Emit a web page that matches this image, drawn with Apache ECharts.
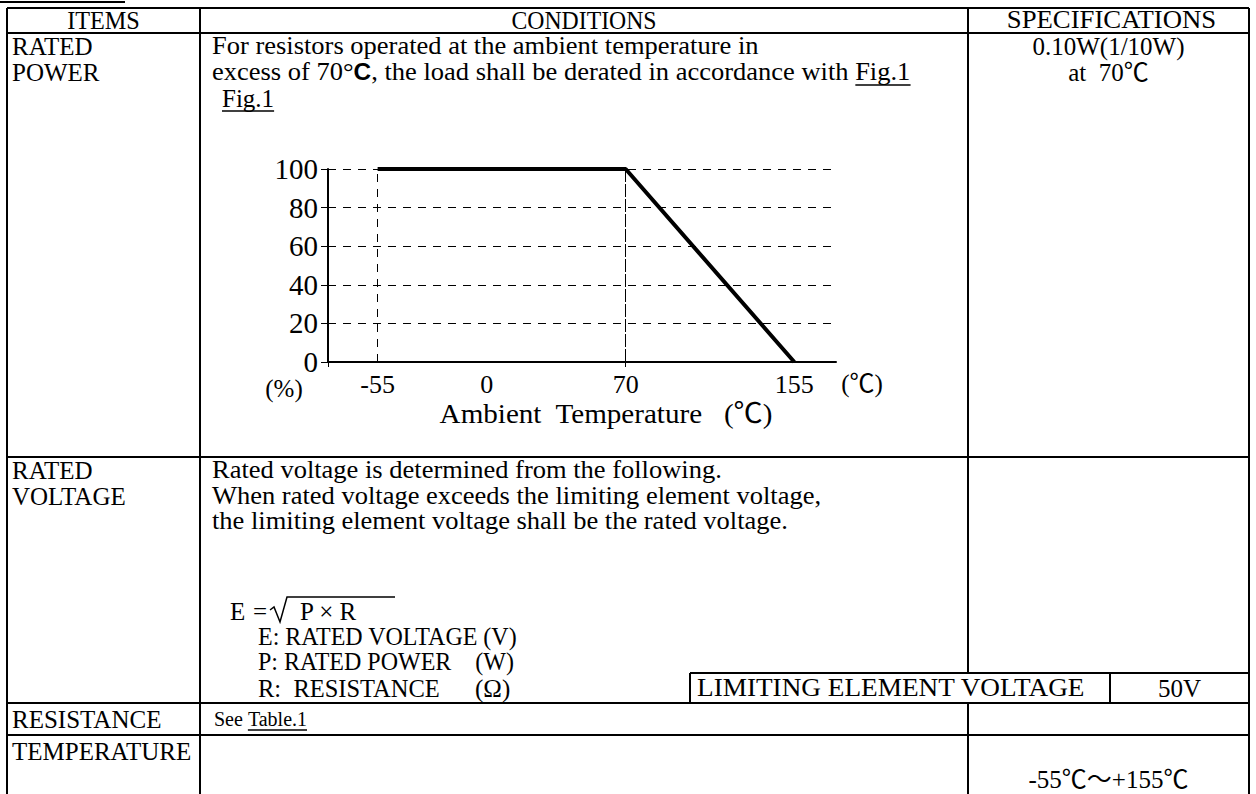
<!DOCTYPE html>
<html><head><meta charset="utf-8">
<script src="https://cdn.jsdelivr.net/npm/echarts@6/dist/echarts.min.js"></script>
<style>html,body{margin:0;padding:0;background:#fff}#c{width:1256px;height:794px}</style>
</head><body><div id="c"></div>
<script>
// ---- data ----
const tempLabels = [-55, 0, 70, 155];          // x tick labels (°C)
const powerTicks = [0, 20, 40, 60, 80, 100];   // y tick labels (%)
const deratingTemp = [-55, 70, 155];           // derating curve x
const deratingPower = [100, 100, 0];           // derating curve y (%)
const extraGridTemps = [-55, 70];              // extra vertical grid lines

const SERIF = '"Liberation Serif","Times New Roman","Noto Sans CJK JP",serif';
const SANS = '"Liberation Sans",Arial,sans-serif';
const FS = 25;
const SX = 1.06;
const chart = echarts.init(document.getElementById('c'), null, {renderer: 'svg', width: 1256, height: 794});

const mctx = document.createElement('canvas').getContext('2d');
function W(text, fs, ff) { mctx.font = fs + 'px ' + ff; return mctx.measureText(text).width; }

function T(text, x, y, o) {
  o = o || {};
  return {type: 'text', x: x, y: y, scaleX: o.sx || 1, silent: true, style: {
    text: text, fill: '#000', fontSize: o.fs || FS, fontFamily: o.ff || SERIF,
    textAlign: o.align || 'left', align: o.align || 'left',
    textVerticalAlign: 'middle', verticalAlign: 'middle', rich: o.rich
  }};
}
function L(x1, y1, x2, y2, w) {
  return {type: 'line', silent: true, shape: {x1: x1, y1: y1, x2: x2, y2: y2},
    style: {stroke: '#000', lineWidth: w || 2}};
}

const C0 = 7, C1 = 200, C2 = 968, C3 = 1249;
const R0 = 8, R1 = 33, R2 = 457, R3 = 703, R4 = 735, RB = 794;
const BOX_T = 673, BOX_X = 690, BOX_D = 1110;
const TX = 212;

// line 2 of rated power with mixed fonts
const p1 = 'excess of 70°', p2 = 'C', p3 = ', the load shall be derated in accordance with ', p4 = 'Fig.1';
const figX = TX + SX * (W(p1, FS, SERIF) + W(p2, 23, SANS) + W(p3, FS, SERIF));
const figW = SX * W(p4, FS, SERIF);
const fig2W = W('Fig.1', FS, SERIF);
const seeW = W('See ', 20, SERIF), tabW = W('Table.1', 20, SERIF);

const g = [
  L(0, 2, 125, 2, 2),
  L(C0, R0, C3, R0), L(C0, R1, C3, R1), L(C0, R2, C3, R2),
  L(C0, R3, C3, R3), L(C0, R4, C3, R4),
  L(C0, R0, C0, RB), L(C1, R0, C1, RB),
  L(C2, R0, C2, BOX_T), L(C2, R3, C2, RB), L(C3, R0, C3, RB),
  L(BOX_X, BOX_T, C3, BOX_T), L(BOX_X, BOX_T, BOX_X, R3), L(BOX_D, BOX_T, BOX_D, R3),
  T('ITEMS', (C0 + C1) / 2, 20, {align: 'center', sx: 0.97}),
  T('CONDITIONS', (C1 + C2) / 2, 20, {align: 'center', sx: 0.95}),
  T('SPECIFICATIONS', (C2 + C3) / 2 + 3, 20, {align: 'center', sx: 1.07}),
  T('RATED', 12, 46), T('POWER', 12, 72),
  T('For resistors operated at the ambient temperature in', TX, 46, {sx: SX}),
  T('{a|' + p1 + '}{b|' + p2 + '}{a|' + p3 + p4 + '}', TX, 72, {sx: SX, rich: {
    a: {fontSize: FS, fontFamily: SERIF}, b: {fontSize: 23, fontFamily: SANS, fontWeight: 'bold'}}}),
  L(figX, 85, figX + figW, 85, 1.5),
  T('0.10W(1/10W)', (C2 + C3) / 2, 46, {align: 'center'}),
  T('at  70℃', (C2 + C3) / 2, 72, {align: 'center'}),
  T('Fig.1', 222, 98), L(222, 111, 222 + fig2W, 111, 1.5),
  T('(%)', 284, 388, {fs: 25, align: 'center'}),
  T('(℃)', 862, 383, {fs: 25, align: 'center'}),
  T('Ambient  Temperature   (℃)', 606, 414, {fs: 28, align: 'center', sx: 1.04}),
  T('RATED', 12, 470), T('VOLTAGE', 12, 496),
  T('Rated voltage is determined from the following.', TX, 470, {sx: SX}),
  T('When rated voltage exceeds the limiting element voltage,', TX, 496, {sx: SX}),
  T('the limiting element voltage shall be the rated voltage.', TX, 521, {sx: SX}),
  T('E', 230, 611), T('=', 253, 611),
  {type: 'polyline', silent: true, shape: {points: [[270, 610], [274, 607], [280, 622], [287, 597], [395, 597]]},
    style: {stroke: '#000', lineWidth: 1.5, fill: null}},
  T('P × R', 300, 611),
  T('E: RATED VOLTAGE (V)', 258, 636, {sx: 0.96}),
  T('P: RATED POWER    (W)', 258, 661, {sx: 0.96}),
  T('R:  RESISTANCE', 258, 688, {sx: 0.98}), T('(Ω)', 475, 688),
  T('LIMITING ELEMENT VOLTAGE', 697, 688, {sx: 1.09}),
  T('50V', (BOX_D + C3) / 2, 688, {align: 'center'}),
  T('RESISTANCE', 12, 719),
  T('See ', 214, 719, {fs: 20}), T('Table.1', 214 + seeW, 719, {fs: 20}),
  L(214 + seeW, 730, 214 + seeW + tabW, 730, 1.5),
  T('TEMPERATURE', 12, 751),
  T('-55℃～+155℃', (C2 + C3) / 2, 779, {align: 'center'})
];

const option = {
  animation: false,
  backgroundColor: '#fff',
  grid: {left: 328, right: 420, top: 169, bottom: 432, containLabel: false},
  xAxis: {
    type: 'value', min: -80, max: 176, interval: 20,
    axisLine: {show: true, onZero: false, lineStyle: {color: '#000', width: 2}},
    axisTick: {show: true, customValues: [-80, 70], length: 5, lineStyle: {color: '#000'}},
    axisLabel: {customValues: tempLabels, fontSize: 26, fontFamily: SERIF, color: '#000', margin: 9},
    splitLine: {show: true, lineStyle: {color: '#000', width: 1, type: [8, 7]}}
  },
  yAxis: {
    type: 'value', min: 0, max: 100, interval: 20,
    axisLine: {show: true, onZero: false, lineStyle: {color: '#000', width: 2}},
    axisTick: {show: true, length: 7, lineStyle: {color: '#000'}},
    axisLabel: {customValues: powerTicks, fontSize: 29, fontFamily: SERIF, color: '#000', margin: 10},
    splitLine: {show: true, lineStyle: {color: '#000', width: 1, type: [8, 7]}}
  },
  series: [{
    type: 'line', symbol: 'none', silent: true,
    data: deratingTemp.map((t, i) => [t, deratingPower[i]]),
    lineStyle: {color: '#000', width: 4},
    markLine: {silent: true, symbol: 'none', label: {show: false},
      lineStyle: {color: '#000', width: 1, type: [8, 7]},
      data: extraGridTemps.map(v => ({xAxis: v}))}
  }],
  graphic: g
};
chart.setOption(option);
</script></body></html>
